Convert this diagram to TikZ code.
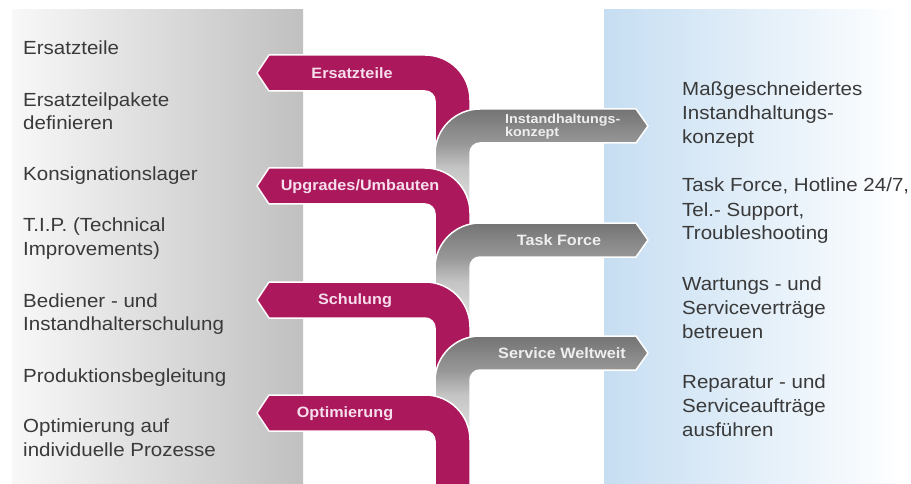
\documentclass[tikz,border=0pt]{standalone}
\usepackage{fontspec}
\setmainfont{Liberation Sans}[FakeStretch=1.08]
\newfontfamily\smalllab{Liberation Sans}[FakeStretch=1.1]
\definecolor{mag}{RGB}{172,24,92}
\definecolor{maglabc}{RGB}{246,222,236}
\definecolor{graylabc}{RGB}{238,238,238}
\definecolor{txtc}{RGB}{58,58,58}
\definecolor{lpL}{RGB}{248,248,248}
\definecolor{lpR}{RGB}{192,192,192}
\definecolor{rpL}{RGB}{198,222,242}
\definecolor{rpR}{RGB}{253,254,255}
\definecolor{gL}{RGB}{232,232,232}
\definecolor{gM1}{RGB}{196,196,196}
\definecolor{gM2}{RGB}{152,152,152}
\definecolor{gD}{RGB}{116,116,116}
\pgfdeclareverticalshading{grayarrow}{100bp}{color(0bp)=(gL); color(25bp)=(gL); color(48bp)=(gM1); color(59bp)=(gM2); color(75bp)=(gD); color(100bp)=(gD)}
\begin{document}
\begin{tikzpicture}[x=1pt,y=-1pt,
  txt/.style={anchor=base west, inner sep=0pt, text=txtc, font=\fontsize{19}{23.5}\selectfont},
  magshape/.style={fill=mag, draw=white, line width=1.5pt, line join=round},
  grayshape/.style={shading=grayarrow, draw=white, line width=1.5pt, line join=round},
  maglab/.style={anchor=base, inner sep=0pt, text=maglabc, font=\bfseries\fontsize{15}{18}\selectfont},
  graylab/.style={anchor=base, inner sep=0pt, text=graylabc, font=\bfseries\fontsize{15}{18}\selectfont},
  graysmall/.style={anchor=base west, inner sep=0pt, text=graylabc, font=\smalllab\bfseries\fontsize{13}{12.5}\selectfont}]
\useasboundingbox (0,0) rectangle (911,484);
\fill[white] (0,0) rectangle (911,484);
% panels
\shade[left color=lpL, right color=lpR] (12,10) rectangle (303,484);
\shade[left color=rpL, right color=rpR] (604,10) rectangle (895,484);

% chain: magenta 1
\path[magshape] (257,73) -- (269,55) -- (425,55) arc[start angle=-90, end angle=0, radius=45]
  -- (470,158) -- (435,158) -- (435,101) arc[start angle=0, end angle=-90, radius=10]
  -- (269,91) -- cycle;
% gray 1
\shadedraw[grayshape] (435,218) -- (435,154) arc[start angle=180, end angle=270, radius=45]
  -- (636,109) -- (648,126) -- (636,143) -- (480,143) arc[start angle=270, end angle=180, radius=10]
  -- (470,218) -- cycle;
% magenta 2
\path[magshape] (257,186) -- (269,168) -- (425,168) arc[start angle=-90, end angle=0, radius=45]
  -- (470,272) -- (435,272) -- (435,214) arc[start angle=0, end angle=-90, radius=10]
  -- (269,204) -- cycle;
% gray 2
\shadedraw[grayshape] (435,332) -- (435,268) arc[start angle=180, end angle=270, radius=45]
  -- (636,223) -- (648,240) -- (636,257) -- (480,257) arc[start angle=270, end angle=180, radius=10]
  -- (470,332) -- cycle;
% magenta 3
\path[magshape] (257,300) -- (269,282) -- (425,282) arc[start angle=-90, end angle=0, radius=45]
  -- (470,385) -- (435,385) -- (435,328) arc[start angle=0, end angle=-90, radius=10]
  -- (269,318) -- cycle;
% gray 3
\shadedraw[grayshape] (435,445) -- (435,381) arc[start angle=180, end angle=270, radius=45]
  -- (636,336) -- (648,353) -- (636,370) -- (480,370) arc[start angle=270, end angle=180, radius=10]
  -- (470,445) -- cycle;
% magenta 4
\path[magshape] (257,413) -- (269,395) -- (425,395) arc[start angle=-90, end angle=0, radius=45]
  -- (470,492) -- (435,492) -- (435,441) arc[start angle=0, end angle=-90, radius=10]
  -- (269,431) -- cycle;

% arrow labels
\node[maglab] (m1) at (352,79) {Ersatzteile};
\node[maglab] (m2) at (360,191) {Upgrades/Umbauten};
\node[maglab] (m3) at (355,304) {Schulung};
\node[maglab] (m4) at (345,417.5) {Optimierung};
\node[graysmall] (g1a) at (505,124) {Instandhaltungs-};
\node[graysmall] (g1b) at (505,136.5) {konzept};
\node[graylab] (g2) at (559,245) {Task Force};
\node[graylab] (g3) at (562,358) {Service Weltweit};

% left texts
\node[txt] (l1) at (23,55) {Ersatzteile};
\node[txt] (l2a) at (23,107) {Ersatzteilpakete};
\node[txt] (l2b) at (23,130) {definieren};
\node[txt] (l3) at (23,181) {Konsignationslager};
\node[txt] (l4a) at (23,232) {T.I.P. (Technical};
\node[txt] (l4b) at (23,255) {Improvements)};
\node[txt] (l5a) at (23,307) {Bediener - und};
\node[txt] (l5b) at (23,330) {Instandhalterschulung};
\node[txt] (l6) at (23,382) {Produktionsbegleitung};
\node[txt] (l7a) at (23,432) {Optimierung auf};
\node[txt] (l7b) at (23,456) {individuelle Prozesse};

% right texts
\node[txt] (r1a) at (682,96) {Maßgeschneidertes};
\node[txt] (r1b) at (682,120) {Instandhaltungs-};
\node[txt] (r1c) at (682,144) {konzept};
\node[txt] (r2a) at (682,192) {Task Force, Hotline 24/7,};
\node[txt] (r2b) at (682,216) {Tel.- Support,};
\node[txt] (r2c) at (682,240) {Troubleshooting};
\node[txt] (r3a) at (682,290) {Wartungs - und};
\node[txt] (r3b) at (682,314) {Serviceverträge};
\node[txt] (r3c) at (682,338) {betreuen};
\node[txt] (r4a) at (682,388) {Reparatur - und};
\node[txt] (r4b) at (682,412) {Serviceaufträge};
\node[txt] (r4c) at (682,436) {ausführen};
\end{tikzpicture}
\end{document}
